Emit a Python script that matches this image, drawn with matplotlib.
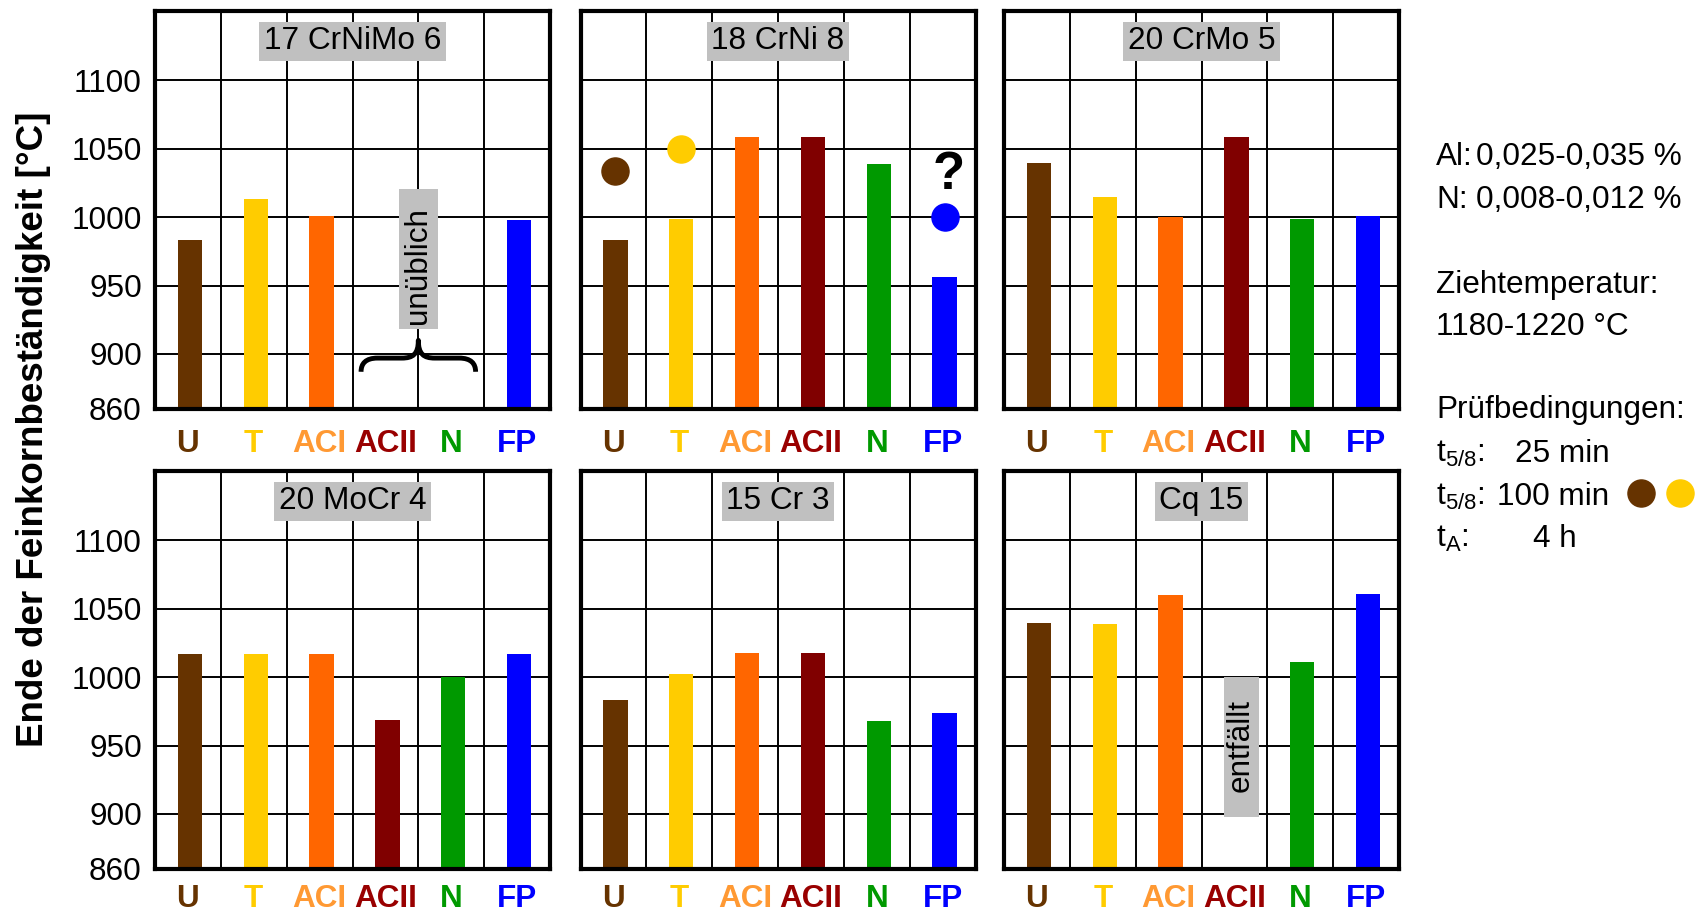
import matplotlib
matplotlib.use("Agg")
import matplotlib.pyplot as plt
import numpy as np
from matplotlib.patches import Rectangle, PathPatch
from matplotlib.path import Path
from matplotlib.lines import Line2D

plt.rcParams['font.family'] = ['Liberation Sans', 'DejaVu Sans']
plt.rcParams['mathtext.fontset'] = 'custom'
plt.rcParams['mathtext.rm'] = 'Liberation Sans'
plt.rcParams['mathtext.it'] = 'Liberation Sans:italic'
plt.rcParams['mathtext.bf'] = 'Liberation Sans:bold'

# ---------------- data ----------------
categories = ['U', 'T', 'ACI', 'ACII', 'N', 'FP']
steels = ['17 CrNiMo 6', '18 CrNi 8', '20 CrMo 5', '20 MoCr 4', '15 Cr 3', 'Cq 15']
bar_colors = ['#663300', '#FFCC00', '#FF6600', '#800000', '#009900', '#0000FF']
label_colors = ['#663300', '#FFCC00', '#FF9933', '#990000', '#009900', '#0000FF']

v_17CrNiMo6 = [983, 1013, 1001, np.nan, np.nan, 998]
v_18CrNi8 = [983, 999, 1059, 1059, 1039, 956]
v_20CrMo5 = [1040, 1015, 1000, 1059, 999, 1001]
v_20MoCr4 = [1017, 1017, 1017, 969, 1000, 1017]
v_15Cr3 = [983, 1002, 1018, 1018, 968, 974]
v_Cq15 = [1040, 1039, 1060, np.nan, 1011, 1061]

# 100 min test condition points (18 CrNi 8)
dot_cats_18CrNi8 = ['U', 'T', 'FP']
dot_vals_18CrNi8 = [1034, 1050, 1000]

yticks = [860, 900, 950, 1000, 1050, 1100]
ymin, ymax = 860, 1151

all_values = [v_17CrNiMo6, v_18CrNi8, v_20CrMo5, v_20MoCr4, v_15Cr3, v_Cq15]

# ---------------- figure ----------------
W, H = 1697, 913
fig = plt.figure(figsize=(W / 100, H / 100), dpi=100)

col_left = [155, 580.5, 1004]
row_top = [10.7, 470.7]
ax_w, ax_h = 395, 398
xpad = [14.5, 11.0]

FS = 22.7
axes = []
for i, (name, vals) in enumerate(zip(steels, all_values)):
    r, c = divmod(i, 3)
    ax = fig.add_axes([col_left[c] / W, 1 - (row_top[r] + ax_h) / H, ax_w / W, ax_h / H])
    axes.append(ax)
    x = np.arange(len(categories))
    vals = np.array(vals, dtype=float)
    ok = ~np.isnan(vals)
    ax.bar(x[ok] + 0.03, vals[ok] - ymin, bottom=ymin, width=0.37,
           color=[bar_colors[k] for k in range(len(categories)) if ok[k]], zorder=2)
    ax.set_xlim(-0.5, len(categories) - 0.5)
    ax.set_ylim(ymin, ymax)
    ax.set_xticks(x)
    ax.set_xticklabels(categories, fontsize=FS, fontweight='bold')
    for lab, col in zip(ax.get_xticklabels(), label_colors):
        lab.set_color(col)
    ax.set_xticks(np.arange(0.5, len(categories) - 1, 1.0), minor=True)
    ax.set_yticks(yticks)
    if c == 0:
        ax.set_yticklabels([str(t) for t in yticks], fontsize=FS)
    else:
        ax.set_yticklabels([])
    ax.tick_params(which='both', length=0)
    ax.tick_params(axis='x', pad=xpad[r])
    ax.tick_params(axis='y', pad=9.5)
    ax.set_axisbelow(True)
    ax.grid(which='major', axis='y', color='black', linewidth=1.4)
    ax.grid(which='minor', axis='x', color='black', linewidth=1.4)
    ax.grid(which='major', axis='x', visible=False)
    for sp in ax.spines.values():
        sp.set_linewidth(3.0)
        sp.set_color('black')
        sp.set_zorder(6)
    ax.text(2.5, 1128.5, name, ha='center', va='center', fontsize=FS, zorder=5,
            bbox=dict(facecolor='#C0C0C0', edgecolor='none', pad=3.2))

# --- annotations for 17 CrNiMo 6: "unüblich" with brace ---
ax = axes[0]
ax.add_patch(Rectangle((3.2, 918.6), 0.6, 102, facecolor='#C0C0C0', edgecolor='none', zorder=4))
ax.text(3.5, 965, 'unüblich', rotation=90, ha='center', va='center', fontsize=FS, zorder=5)
yh, ye, yt = 897, 887, 910
verts = [(2.63, ye), (2.63, 893), (2.70, yh), (2.88, yh),
         (3.25, yh),
         (3.42, yh), (3.5, 900), (3.5, yt),
         (3.5, 900), (3.58, yh), (3.75, yh),
         (4.12, yh),
         (4.30, yh), (4.37, 893), (4.37, ye)]
codes = [Path.MOVETO, Path.CURVE4, Path.CURVE4, Path.CURVE4,
         Path.LINETO,
         Path.CURVE4, Path.CURVE4, Path.CURVE4,
         Path.CURVE4, Path.CURVE4, Path.CURVE4,
         Path.LINETO,
         Path.CURVE4, Path.CURVE4, Path.CURVE4]
ax.add_patch(PathPatch(Path(verts, codes), facecolor='none', edgecolor='black',
                       linewidth=3.5, zorder=4, capstyle='butt', joinstyle='round'))

# --- 18 CrNi 8: points + question mark ---
ax = axes[1]
for cat, val in zip(dot_cats_18CrNi8, dot_vals_18CrNi8):
    k = categories.index(cat)
    ax.plot([k + 0.03], [val], marker='o', markersize=19.5, color=bar_colors[k],
            linestyle='none', zorder=5)
ax.text(5.1, 1031, '?', ha='center', va='center', fontsize=38, fontweight='bold', zorder=5)

# --- Cq 15: "entfällt" ---
ax = axes[5]
ax.add_patch(Rectangle((2.84, 898), 0.53, 102.5, facecolor='#C0C0C0', edgecolor='none', zorder=4))
ax.text(3.1, 950, 'entfällt', rotation=90, ha='center', va='center', fontsize=FS, zorder=5)

# --- y label ---
fig.text(34 / W, 1 - 429 / H, 'Ende der Feinkornbeständigkeit [°C]', rotation=90,
         ha='center', va='center', fontsize=26.5, fontweight='bold')

# --- right side text ---
def ftxt(x, y, s, **kw):
    fig.text(x / W, 1 - y / H, s, ha='left', va='baseline', fontsize=FS, **kw)

ftxt(1436, 165, 'Al:')
ftxt(1476, 165, '0,025-0,035 %')
ftxt(1436, 208, 'N:')
ftxt(1476, 208, '0,008-0,012 %')
ftxt(1436, 293, 'Ziehtemperatur:')
ftxt(1436, 335, '1180-1220 °C')
ftxt(1436, 418, 'Prüfbedingungen:')
ftxt(1436, 462, r't$_{\mathregular{5/8}}$:')
ftxt(1515, 462, '25 min')
ftxt(1436, 505, r't$_{\mathregular{5/8}}$:')
ftxt(1497, 505, '100 min')
ftxt(1436, 547, r't$_{\mathregular{A}}$:')
ftxt(1533, 547, '4 h')

for xd, col in [(1641, bar_colors[0]), (1680, bar_colors[1])]:
    fig.add_artist(Line2D([xd / W], [1 - 493 / H], transform=fig.transFigure,
                          marker='o', markersize=19.5, color=col, linestyle='none'))

fig.savefig('out.png', dpi=100)
